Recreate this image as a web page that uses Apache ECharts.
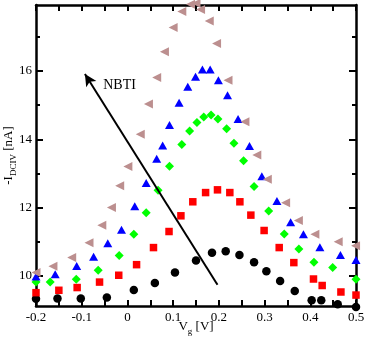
<!DOCTYPE html>
<html>
<head>
<meta charset="utf-8">
<script src="https://cdn.jsdelivr.net/npm/echarts@6/dist/echarts.min.js"></script>
<style>
html,body{margin:0;padding:0;background:#fff;}
#chart{width:365px;height:341px;}
</style>
</head>
<body>
<div id="chart"></div>
<script>
// ---- data (Vg in V, -I_DCIV in nA) ----
var vgBlack = [-0.2,-0.153,-0.102,-0.045,0.014,0.060,0.104,0.150,0.185,0.215,0.245,0.277,0.304,0.334,0.366,0.403,0.424,0.460,0.5];
var iBlack  = [9.33,9.34,9.34,9.37,9.59,9.79,10.10,10.45,10.68,10.72,10.61,10.40,10.14,9.85,9.56,9.29,9.29,9.17,9.09];

var vgRed = [-0.2,-0.150,-0.110,-0.061,-0.019,0.020,0.057,0.091,0.117,0.143,0.171,0.197,0.224,0.246,0.270,0.299,0.332,0.364,0.407,0.426,0.467,0.5];
var iRed  = [9.51,9.58,9.66,9.82,10.02,10.33,10.83,11.30,11.76,12.17,12.44,12.52,12.44,12.17,11.78,11.33,10.83,10.39,9.91,9.72,9.53,9.44];

var vgGreen = [-0.2,-0.169,-0.112,-0.064,-0.018,0.014,0.041,0.067,0.092,0.119,0.136,0.152,0.167,0.183,0.198,0.217,0.233,0.254,0.277,0.309,0.343,0.375,0.408,0.449,0.5];
var iGreen  = [9.82,9.82,9.90,10.17,10.60,11.22,11.85,12.51,13.21,13.85,14.24,14.49,14.65,14.71,14.59,14.31,13.88,13.37,12.62,11.90,11.23,10.79,10.40,10.25,9.90];

var vgBlue = [-0.2,-0.158,-0.111,-0.074,-0.043,-0.013,0.016,0.041,0.064,0.077,0.092,0.113,0.132,0.149,0.164,0.181,0.199,0.219,0.242,0.267,0.294,0.327,0.357,0.385,0.421,0.466,0.5];
var iBlue  = [9.98,10.05,10.29,10.56,10.96,11.35,12.04,12.72,13.43,13.82,14.42,15.07,15.54,15.83,16.04,16.04,15.73,15.29,14.59,13.80,12.92,12.19,11.57,11.22,10.84,10.61,10.47];

var vgBrown = [-0.2,-0.163,-0.122,-0.084,-0.056,-0.035,-0.017,0.001,0.028,0.046,0.064,0.081,0.100,0.119,0.138,0.150,0.160,0.179,0.195,0.220,0.257,0.283,0.306,0.346,0.374,0.410,0.461,0.499];
var iBrown  = [10.10,10.28,10.54,10.97,11.48,12.00,12.64,13.20,14.15,15.03,15.81,16.56,17.27,17.74,17.95,17.98,17.80,17.46,16.80,15.73,14.51,13.54,12.83,12.14,11.62,11.22,11.00,10.88];

// axis ticks
var xTickLabels = [-0.2,-0.1,0,0.1,0.2,0.3,0.4,0.5];
var xTicks = [-0.2,-0.15,-0.1,-0.05,0,0.05,0.1,0.15,0.2,0.25,0.3,0.35,0.4,0.45,0.5];
var yMajor = [10,12,14,16];
var yMinor = [11,13,15,17];

// annotation
var arrowFrom = [0.197, 9.74];
var arrowTo = [-0.093, 15.91];
var nbtiPos = [-0.053, 15.58];

function pairs(xs, ys){ return xs.map(function(x,i){ return [x, ys[i]]; }); }

var FONT = 'Liberation Serif';
var X_MIN=-0.2, X_MAX=0.5, Y_MIN=9.12, Y_MAX=17.93;
var lineStyle = {color:'#000', width:2.5};

function xAx(grid, pos, labels, show){
  return {
    type:'value', gridIndex:grid, position:pos, min:X_MIN, max:X_MAX, show:show,
    axisLine:{show:true, onZero:false, lineStyle:lineStyle},
    axisTick:{show:true, inside:true, length:6, customValues:xTicks, lineStyle:{color:'#000', width:2}},
    axisLabel:{show:labels, customValues:xTickLabels, margin:5, color:'#000', fontFamily:FONT, fontSize:13,
      formatter:function(v){ return Math.abs(v)<1e-9 ? '0' : v.toFixed(1); }},
    splitLine:{show:false}
  };
}
function yAx(grid, pos, ticks, len, labels, line){
  return {
    type:'value', gridIndex:grid, position:pos, min:Y_MIN, max:Y_MAX, show:true,
    axisLine:{show:line, onZero:false, lineStyle:lineStyle},
    axisTick:{show:true, inside:true, length:len, customValues:ticks, lineStyle:{color:'#000', width:2}},
    axisLabel:{show:labels, customValues:yMajor, margin:4, color:'#000', fontFamily:FONT, fontSize:13},
    splitLine:{show:false}
  };
}

var titleRich = {
  a:{fontFamily:FONT, fontSize:13, lineHeight:16, verticalAlign:'top', color:'#000'},
  b:{fontFamily:FONT, fontSize:9, lineHeight:6, verticalAlign:'bottom', color:'#000'}
};

var xs = [xAx(0,'bottom',true,true), xAx(0,'top',false,true), xAx(1,'bottom',false,false), xAx(1,'top',false,false)];
xs[0].name = '{a|V}{b|g}{a| [V]}';
xs[0].nameLocation = 'middle';
xs[0].nameGap = 14;
xs[0].nameMoveOverlap = false;
xs[0].nameTextStyle = {color:'#000', rich:titleRich};

var ys = [yAx(0,'left',yMajor,7,true,true), yAx(0,'right',yMajor,7,false,true), yAx(1,'left',yMinor,4,false,false), yAx(1,'right',yMinor,4,false,false)];
ys[0].name = '{a|-I}{b|DCIV}{a| [nA]}';
ys[0].nameLocation = 'middle';
ys[0].nameGap = 18;
ys[0].nameMoveOverlap = false;
ys[0].nameTextStyle = {color:'#000', rich:titleRich};

var leftTri = 'path://M0,5 L10,0 L10,10 Z';

function sc(name, xv, yv, symbol, size, color){
  return {name:name, type:'scatter', xAxisIndex:0, yAxisIndex:0, clip:false,
    symbol:symbol, symbolSize:size, symbolKeepAspect:false,
    itemStyle:{color:color, opacity:1}, data:pairs(xv, yv), z:3};
}

var gridBox = {left:36, right:9, top:5, bottom:35, containLabel:false, outerBoundsMode:'none'};
var chart = echarts.init(document.getElementById('chart'), null, {renderer:'canvas'});
chart.setOption({
  animation:false,
  backgroundColor:'#fff',
  grid:[Object.assign({}, gridBox), Object.assign({}, gridBox)],
  xAxis: xs,
  yAxis: ys,
  series:[
    sc('black', vgBlack, iBlack, 'circle', 8.5, '#000000'),
    sc('red', vgRed, iRed, 'rect', 7.5, '#ff0000'),
    sc('green', vgGreen, iGreen, 'diamond', [9,9], '#00ff00'),
    sc('blue', vgBlue, iBlue, 'triangle', [9,8], '#0000ff'),
    sc('brown', vgBrown, iBrown, leftTri, [9,9], '#bc8f8f'),
    {type:'line', xAxisIndex:0, yAxisIndex:0, data:[], silent:true, z:4,
      markLine:{silent:true, symbol:['none','arrow'], symbolSize:[9,12], animation:false,
        label:{show:false}, lineStyle:{color:'#000', width:2, type:'solid'},
        data:[[{coord:arrowFrom},{coord:arrowTo}]]},
      markPoint:{silent:true, symbol:'circle', symbolSize:0,
        label:{show:true, position:'right', distance:0, formatter:'NBTI', color:'#000', fontFamily:FONT, fontSize:14},
        data:[{coord:nbtiPos}]}
    }
  ]
});
</script>
</body>
</html>
